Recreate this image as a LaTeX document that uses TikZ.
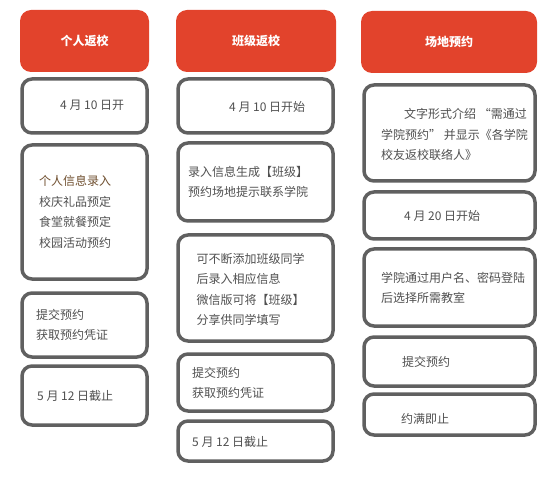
\documentclass[tikz,border=0pt]{standalone}
\usepackage{fontspec}
\setmainfont{Noto Sans CJK SC}
\usepackage{tikz}
\usetikzlibrary{positioning}

\definecolor{headred}{RGB}{226,67,44}
\definecolor{cardline}{RGB}{96,96,96}
\definecolor{cardtext}{RGB}{80,80,80}
\definecolor{browntext}{RGB}{112,80,48}

\begin{document}
\begin{tikzpicture}[x=1pt, y=-1pt,
  header/.style={rectangle, rounded corners=11pt, fill=headred, text=white, font=\bfseries\fontsize{12}{14}\selectfont, inner sep=0pt},
  card/.style={rectangle, rounded corners=10pt, draw=cardline, line width=3.5pt, fill=white, inner sep=0pt},
  txt/.style={anchor=west, align=left, inner sep=0pt, text=cardtext, font=\fontsize{12}{20.5}\selectfont}
]
\useasboundingbox (0,0) rectangle (549,481);

% headers
\node[header, minimum width=129pt, minimum height=62pt] (hpersonal) at (84.5,41) {个人返校};
\node[header, minimum width=160pt, minimum height=62pt] (hclass) at (256,41) {班级返校};
\node[header, minimum width=176pt, minimum height=62pt] (hvenue) at (449,42) {场地预约};

% personal column
\node[card, minimum width=125pt, minimum height=54pt] (p1) at (84.5,106) {};
\node[card, minimum width=125pt, minimum height=134pt] (p2) at (84.5,212) {};
\node[card, minimum width=125pt, minimum height=64pt] (p3) at (84.5,325) {};
\node[card, minimum width=125pt, minimum height=59pt] (p4) at (84.5,395.5) {};
\node[txt] (p1txt) at (60,105) {4 月 10 日开};
\node[txt] (p2txt) at (39,212) {\textcolor{browntext}{个人信息录入}\\校庆礼品预定\\食堂就餐预定\\校园活动预约};
\node[txt] (p3txt) at (36,325) {提交预约\\获取预约凭证};
\node[txt] (p4txt) at (37,396) {5 月 12 日截止};

% class column
\node[card, minimum width=155pt, minimum height=54pt] (c1) at (255.5,106) {};
\node[card, minimum width=155pt, minimum height=78pt] (c2) at (255.5,182) {};
\node[card, minimum width=155pt, minimum height=106pt] (c3) at (255.5,288) {};
\node[card, minimum width=155pt, minimum height=57pt] (c4) at (255.5,382.5) {};
\node[card, minimum width=155pt, minimum height=40pt] (c5) at (255.5,441) {};
\node[txt] (c1txt) at (229,107) {4 月 10 日开始};
\node[txt] (c2txt) at (188,182) {录入信息生成【班级】\\预约场地提示联系学院};
\node[txt] (c3txt) at (196.5,289.5) {可不断添加班级同学\\后录入相应信息\\微信版可将【班级】\\分享供同学填写};
\node[txt] (c4txt) at (192,383) {提交预约\\获取预约凭证};
\node[txt] (c5txt) at (192,442) {5 月 12 日截止};

% venue column
\node[card, minimum width=171pt, minimum height=96pt] (v1) at (449.5,133) {};
\node[card, minimum width=171pt, minimum height=47pt] (v2) at (449.5,215.5) {};
\node[card, minimum width=171pt, minimum height=77pt] (v3) at (449.5,287.5) {};
\node[card, minimum width=171pt, minimum height=49pt] (v4) at (449.5,361.5) {};
\node[card, minimum width=171pt, minimum height=41pt] (v5) at (449.5,414.5) {};
\node[txt] (v1txt) at (381,134.5) {\hspace*{23pt}文字形式介绍 “需通过\\学院预约” 并显示《各学院\\校友返校联络人》};
\node[txt] (v2txt) at (404,216) {4 月 20 日开始};
\node[txt] (v3txt) at (381,288) {学院通过用户名、密码登陆\\后选择所需教室};
\node[txt] (v4txt) at (402,362) {提交预约};
\node[txt] (v5txt) at (401,419) {约满即止};
\end{tikzpicture}
\end{document}
